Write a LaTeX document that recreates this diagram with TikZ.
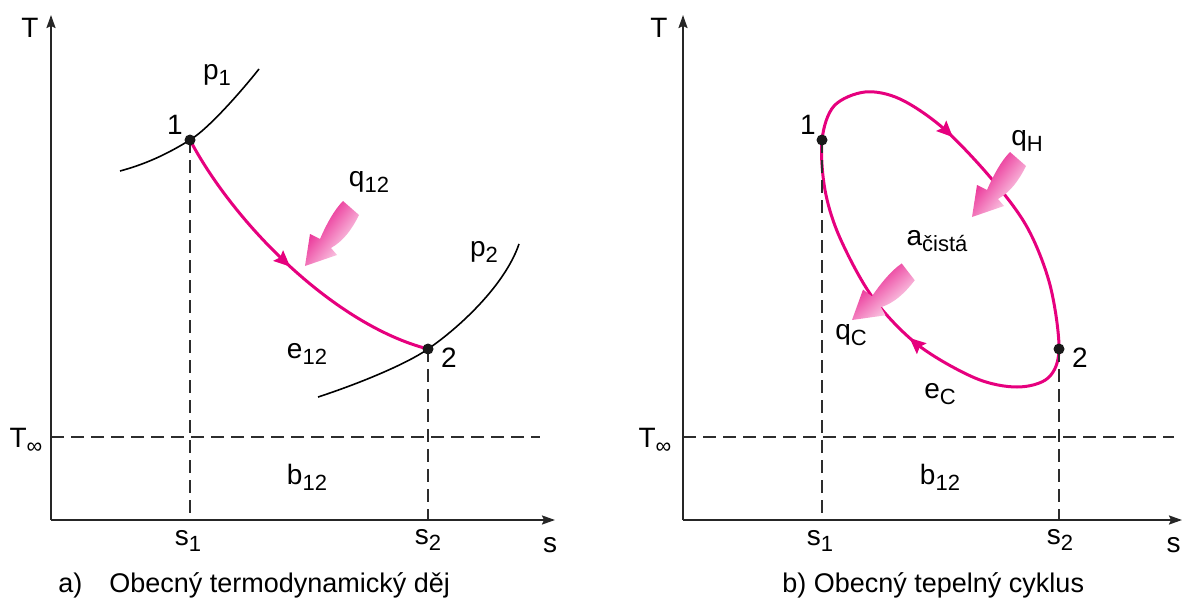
\documentclass[tikz,border=0pt]{standalone}
\usepackage{fontspec}
\setmainfont{Liberation Sans}
\usetikzlibrary{arrows.meta,decorations.markings}
\definecolor{mag}{RGB}{230,0,126}
\definecolor{dline}{RGB}{45,45,45}
\newcommand{\heatarrow}[3]{%
  \begin{scope}[shift={#1}, rotate=#2]
    \shade[left color=mag, middle color=mag!82, right color=mag!3, shading angle=#3]
      (0,0) -- (5,-32) -- (15,-27) .. controls (21,-41) and (29,-56) .. (38,-65)
      -- (54,-51) .. controls (46,-35) and (38,-25) .. (26,-18) -- (32,-11) -- cycle;
  \end{scope}}
\newcommand{\lowsub}[1]{\raisebox{-0.22em}{\fontsize{11}{12}\selectfont #1}}
\begin{document}
\begin{tikzpicture}[x=0.5pt,y=-0.5pt,
  lbl/.style={font=\fontsize{14}{16}\selectfont, inner sep=0pt},
  captext/.style={font=\fontsize{13.5}{16}\selectfont, inner sep=0pt, anchor=west},
  axis/.style={line width=1pt, draw=black!85, -{Stealth[length=6.5pt,width=4.5pt,inset=1pt]}},
  guide/.style={dash pattern=on 6.5pt off 3.5pt, line width=0.75pt, draw=dline},
  isobar/.style={line width=0.8pt},
  proc/.style={draw=mag, line width=1.5pt},
  flowtip/.style={postaction={decorate, decoration={markings,
      mark=at position #1 with {\arrow[mag]{Stealth[length=8pt,width=7pt,inset=1.2pt]}}}}},
  dot/.style={circle, fill=black!90, minimum size=5.5pt, inner sep=0pt},
]
\useasboundingbox (0,0) rectangle (1182,599);

% ---------------- left panel ----------------
\coordinate (oL) at (51,520);
\coordinate (yL) at (51,15);
\coordinate (xL) at (555,520);
\coordinate (tinfLa) at (51,437);
\coordinate (tinfLb) at (540,437);
\coordinate (n1c) at (190,140);
\coordinate (n2c) at (428,349);
\coordinate (f1L) at (190,520);
\coordinate (f2L) at (428,520);
\coordinate (p1a) at (120,171);
\coordinate (p1b) at (259,69);
\coordinate (p2a) at (318,397);
\coordinate (p2b) at (519,244);

\draw[isobar] (p1a) .. controls (150,163) and (172,151) .. (n1c)
  .. controls (208,129) and (240,93) .. (p1b);
\draw[isobar] (p2a) .. controls (355,385) and (405,365) .. (n2c)
  .. controls (460,327) and (505,285) .. (p2b);
\draw[proc, flowtip=0.5] (n1c) .. controls (235,225) and (335,325) .. (n2c);

\draw[guide] (tinfLa) -- (tinfLb);
\draw[guide] (n1c) -- (f1L);
\draw[guide] (n2c) -- (f2L);
\draw[axis] (oL) -- (yL);
\draw[axis] (oL) -- (xL);

\node[dot] (n1) at (n1c) {};
\node[dot] (n2) at (n2c) {};

\heatarrow{(305,266)}{0}{52}

\node[lbl] (TL) at (30,28) {T};
\node[lbl] (TinfL) at (26,441) {T\lowsub{∞}};
\node[lbl] (oneL) at (175,125) {1};
\node[lbl] (twoL) at (449,358) {2};
\node[lbl] (p1) at (217,75) {p\lowsub{1}};
\node[lbl] (p2) at (484,252) {p\lowsub{2}};
\node[lbl] (q12) at (369,182) {q\lowsub{12}};
\node[lbl] (e12) at (307,354) {e\lowsub{12}};
\node[lbl] (b12L) at (307,477) {b\lowsub{12}};
\node[lbl] (s1L) at (188,541) {s\lowsub{1}};
\node[lbl] (s2L) at (428,540) {s\lowsub{2}};
\node[lbl] (sL) at (550,545) {s};
\node[captext] (capA) at (58,585) {a)\hspace{1em}Obecný termodynamický děj};

% ---------------- right panel ----------------
\coordinate (oR) at (683,520);
\coordinate (yR) at (683,15);
\coordinate (xR) at (1182,520);
\coordinate (tinfRa) at (683,437);
\coordinate (tinfRb) at (1174,437);
\coordinate (m1c) at (822,140);
\coordinate (m2c) at (1059,349);
\coordinate (f1R) at (822,520);
\coordinate (f2R) at (1059,520);

\draw[proc, flowtip=0.165, flowtip=0.685] plot[smooth cycle, tension=0.55] coordinates {
  (m1c) (834,106) (865,92) (900,99) (943,128) (990,177) (1027,227) (1050,285)
  (m2c) (1048,378) (1017,387) (975,378) (918,345) (873,298) (840,238) (825,190)};

\draw[guide] (tinfRa) -- (tinfRb);
\draw[guide] (m1c) -- (f1R);
\draw[guide] (m2c) -- (f2R);
\draw[axis] (oR) -- (yR);
\draw[axis] (oR) -- (xR);

\node[dot] (m1) at (m1c) {};
\node[dot] (m2) at (m2c) {};

\heatarrow{(972,217)}{0}{52}
\heatarrow{(852,320)}{-11}{41}

\node[lbl] (TR) at (659,28) {T};
\node[lbl] (TinfR) at (655,441) {T\lowsub{∞}};
\node[lbl] (oneR) at (808,125) {1};
\node[lbl] (twoR) at (1080,358) {2};
\node[lbl] (qH) at (1027,141) {q\lowsub{H}};
\node[lbl] (acist) at (937,241) {a\lowsub{čistá}};
\node[lbl] (qC) at (851,335) {q\lowsub{C}};
\node[lbl] (eC) at (940,394) {e\lowsub{C}};
\node[lbl] (b12R) at (940,477) {b\lowsub{12}};
\node[lbl] (s1R) at (820,541) {s\lowsub{1}};
\node[lbl] (s2R) at (1060,540) {s\lowsub{2}};
\node[lbl, anchor=east] (sR) at (1181,545) {s};
\node[captext] (capB) at (782,585) {b) Obecný tepelný cyklus};
\end{tikzpicture}
\end{document}
